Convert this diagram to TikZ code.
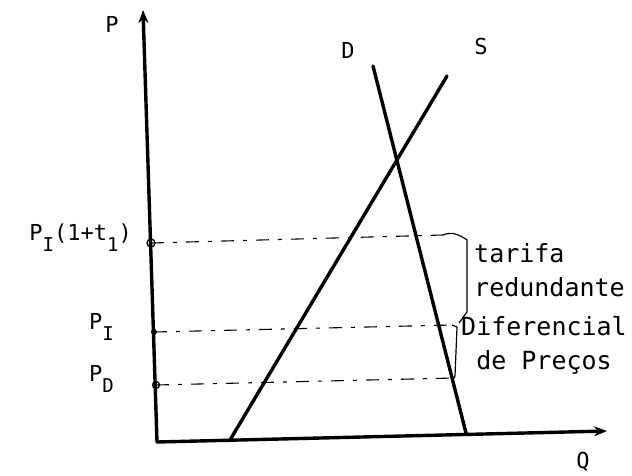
\documentclass[tikz,border=0pt]{standalone}
\usepackage{fontspec}
\setmainfont{DejaVu Sans Mono}
\usetikzlibrary{arrows.meta}
\newcommand{\baixo}[1]{\raisebox{-0.5em}{\fontsize{19}{19}\selectfont #1}}
\tikzset{
  eixo/.style={line width=3.4pt, line cap=round},
  curva/.style={line width=3.4pt, line cap=round},
  nivel/.style={line width=1.1pt, dash pattern=on 13pt off 9pt on 4pt off 9pt},
  chave/.style={line width=1.2pt},
  marca/.style={line width=1.3pt},
  rotulo/.style={font=\fontsize{22}{26}\selectfont, inner sep=0pt},
  texto/.style={font=\fontsize{25}{34}\selectfont, inner sep=0pt},
}
\begin{document}
\begin{tikzpicture}[x=1pt,y=-1pt]
    \useasboundingbox (0,0) rectangle (632,475);
    % Eixos P e Q
    \coordinate (O) at (157,442);
    \coordinate (Ptopo) at (143,10);
    \coordinate (Qfim) at (607,431);
    \draw[eixo, -{Stealth[length=13pt,width=10pt]}] (O) -- (Ptopo);
    \draw[eixo, -{Stealth[length=13pt,width=10pt]}] (O) -- (Qfim);
    \node[rotulo] (P) at (112,24) {P};
    \node[rotulo] (Q) at (583,462) {Q};

    % Oferta e procura
    \coordinate (Sbase) at (230,440);
    \coordinate (Stopo) at (447,76);
    \coordinate (Dtopo) at (373,66);
    \coordinate (Dbase) at (466,433);
    \draw[curva] (Sbase) -- (Stopo);
    \draw[curva] (Dtopo) -- (Dbase);
    \node[rotulo] (S) at (481,46) {S};
    \node[rotulo] (D) at (348,50) {D};

    % Niveis de preco
    \coordinate (PT) at (151,243);
    \coordinate (PTfim) at (443,235);
    \coordinate (PI) at (154,332);
    \coordinate (PIfim) at (452,325);
    \coordinate (PD) at (156,385);
    \coordinate (PDfim) at (454,378);
    \draw[nivel] (PT) -- (PTfim);
    \draw[nivel] (PI) -- (PIfim);
    \draw[nivel] (PD) -- (PDfim);
    \draw[marca] (PT) circle (4pt);
    \fill (PI) circle (3pt);
    \draw[marca] (PD) circle (3.5pt);
    \node[rotulo, anchor=east] (lPT) at (132,238) {P\baixo{I}(1+t\baixo{1})};
    \node[rotulo, anchor=east] (lPI) at (114,327) {P\baixo{I}};
    \node[rotulo, anchor=east] (lPD) at (114,379) {P\baixo{D}};

    % Chaves
    \draw[chave] (PTfim) .. controls (452,231) and (460,235) .. (467,240)
        -- (467,312) -- (459,323);
    \draw[chave] (PIfim) -- (457,327) -- (455,376) -- (PDfim);
    \node[texto, anchor=west, align=left] (tarifa) at (474,270) {tarifa\\redundante};
    \node[texto, anchor=west, align=center] (difer) at (461,345) {Diferencial\\de Preços};
\end{tikzpicture}
\end{document}
